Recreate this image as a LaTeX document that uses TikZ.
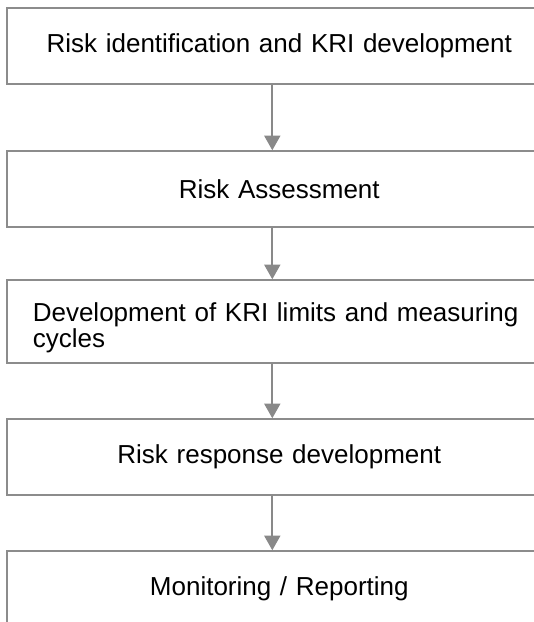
\documentclass[tikz,border=0pt]{standalone}
\usepackage{fontspec}
\setmainfont{Liberation Sans}
\usetikzlibrary{arrows.meta}

\definecolor{boxgray}{RGB}{140,140,140}
\definecolor{arrowgray}{RGB}{137,137,137}

\tikzset{every picture/.style={line width=0.75pt}}
\tikzset{
	stepbox/.style={draw=boxgray, line width=1.1pt, minimum width=408.75pt, minimum height=57pt,
		text width=369.75pt, inner xsep=19.5pt, inner ysep=0pt, align=center,
		font=\fontsize{19.5}{19.5}\selectfont},
	flow/.style={draw=arrowgray, line width=1.5pt, -{Triangle[width=12pt,length=11pt]}}}

\begin{document}
\begin{tikzpicture}[x=0.75pt,y=0.75pt,yscale=-1,xscale=1]
	%set diagram to 534 x 622
	\useasboundingbox (0,0) rectangle (534,622);
	\clip (0,0) rectangle (534,622);

	% Text Node
	\node[stepbox] (ident) at (279.3,46) {Risk identification and KRI development};
	% Text Node
	\node[stepbox] (assess) at (279.3,189) {Risk Assessment};
	% Text Node
	\node[stepbox, minimum height=62.25pt, align=left] (limits) at (279.3,321.5) {\rule{0pt}{24pt}Development of KRI limits and measuring cycles};
	% Text Node
	\node[stepbox] (respond) at (279.3,457) {Risk response development};
	% Text Node
	\node[stepbox] (monitor) at (279.3,589) {Monitoring / Reporting};

	%Straight Lines
	\draw[flow] ([xshift=-5.25pt]ident.south) -- ([xshift=-5.25pt]assess.north);
	\draw[flow] ([xshift=-5.25pt]assess.south) -- ([xshift=-5.25pt]limits.north);
	\draw[flow] ([xshift=-5.25pt]limits.south) -- ([xshift=-5.25pt]respond.north);
	\draw[flow] ([xshift=-5.25pt]respond.south) -- ([xshift=-5.25pt]monitor.north);

\end{tikzpicture}
\end{document}
